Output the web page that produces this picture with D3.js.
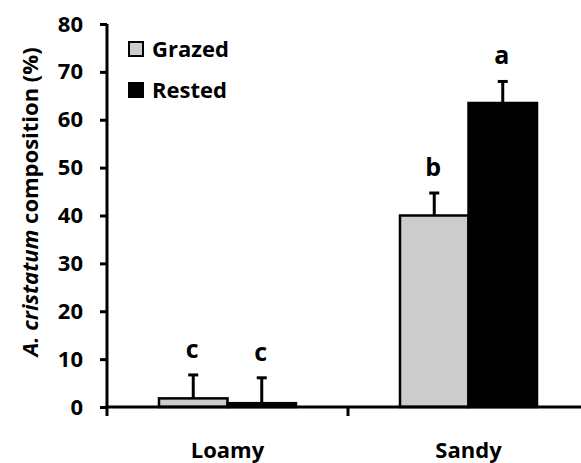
<!DOCTYPE html>
<html>
<head>
<meta charset="utf-8">
<script src="https://cdn.jsdelivr.net/npm/d3@7"></script>
<style>
  body { margin: 0; background: #fff; }
  text { font-family: "Open Sans", "DejaVu Sans", sans-serif; font-weight: bold; }
</style>
</head>
<body>
<script>
var soils = ['Loamy', 'Sandy'];
var treatments = ['Grazed', 'Rested'];
var grazed = [1.8, 40];
var rested = [0.8, 63.5];
var grazedErr = [4.9, 4.7];
var restedErr = [5.3, 4.5];
var grazedLetters = ['c', 'b'];
var restedLetters = ['c', 'a'];
var yTicks = [0, 10, 20, 30, 40, 50, 60, 70, 80];

var width = 581, height = 463;
var colors = { Grazed: '#cccccc', Rested: '#000000' };

var svg = d3.select('body').append('svg').attr('width', width).attr('height', height);

var y = d3.scaleLinear().domain([0, 80]).range([407, 24]);
var x = d3.scaleBand().domain(soils).range([107, 589]);
var xInner = d3.scaleBand().domain(treatments).range([0, 137]);

var rows = [];
soils.forEach(function (s, i) {
  rows.push({ soil: s, t: 'Grazed', v: grazed[i], e: grazedErr[i], l: grazedLetters[i] });
  rows.push({ soil: s, t: 'Rested', v: rested[i], e: restedErr[i], l: restedLetters[i] });
});

function barX(d) {
  return x(d.soil) + (x.bandwidth() - 137) / 2 + xInner(d.t);
}
function barMid(d) {
  return barX(d) + xInner.bandwidth() / 2;
}

// error bars (upper only)
svg.selectAll('line.err')
  .data(rows)
  .enter()
  .append('line')
  .attr('x1', barMid)
  .attr('x2', barMid)
  .attr('y1', function (d) { return y(d.v); })
  .attr('y2', function (d) { return y(d.v + d.e); })
  .attr('stroke', '#000').attr('stroke-width', 3);
svg.selectAll('line.cap')
  .data(rows)
  .enter()
  .append('line')
  .attr('x1', function (d) { return barMid(d) - 5; })
  .attr('x2', function (d) { return barMid(d) + 5; })
  .attr('y1', function (d) { return y(d.v + d.e); })
  .attr('y2', function (d) { return y(d.v + d.e); })
  .attr('stroke', '#000').attr('stroke-width', 3);

// bars
svg.selectAll('rect.bar')
  .data(rows)
  .enter()
  .append('rect')
  .attr('x', barX)
  .attr('width', xInner.bandwidth())
  .attr('y', function (d) { return y(d.v); })
  .attr('height', function (d) { return y(0) - y(d.v); })
  .attr('fill', function (d) { return colors[d.t]; })
  .attr('stroke', '#000').attr('stroke-width', 2.5);

// letters
svg.selectAll('text.letter')
  .data(rows)
  .enter()
  .append('text')
  .attr('x', function (d) { return barMid(d) - 1; })
  .attr('y', function (d) { return y(d.v + d.e) - 17; })
  .attr('text-anchor', 'middle')
  .attr('font-size', 25)
  .text(function (d) { return d.l; });

// y axis
var yAxis = svg.append('g')
  .attr('transform', 'translate(107,0)')
  .call(d3.axisLeft(y).tickValues(yTicks).tickSize(7).tickPadding(17));
yAxis.select('.domain').attr('stroke-width', 3).attr('d', 'M0,' + y(80) + 'V' + y(0));
yAxis.selectAll('.tick line').attr('stroke-width', 3);
yAxis.selectAll('.tick text').attr('font-size', 22).attr('font-family', '"Open Sans", sans-serif').attr('font-weight', 'bold').attr('fill', '#000');

// x axis
var xAxis = svg.append('g')
  .attr('transform', 'translate(0,' + y(0) + ')')
  .call(d3.axisBottom(x).tickSize(0).tickPadding(35));
xAxis.select('.domain').attr('stroke-width', 3).attr('d', 'M105.5,0H589');
xAxis.selectAll('.tick text').attr('font-size', 22).attr('font-family', '"Open Sans", sans-serif').attr('font-weight', 'bold').attr('fill', '#000');
// category separator ticks
svg.selectAll('line.sep')
  .data([soils[0], soils[1]])
  .enter()
  .append('line')
  .attr('x1', function (d) { return x(d); })
  .attr('x2', function (d) { return x(d); })
  .attr('y1', y(0)).attr('y2', y(0) + 9)
  .attr('stroke', '#000').attr('stroke-width', 3);

// y label
var yl = svg.append('text')
  .attr('transform', 'translate(38,202) rotate(-90)')
  .attr('text-anchor', 'middle')
  .attr('font-size', 22);
yl.append('tspan').attr('font-style', 'italic').text('A. cristatum');
yl.append('tspan').text(' composition (%)');

// legend
var legend = svg.selectAll('g.legend')
  .data(treatments)
  .enter()
  .append('g')
  .attr('transform', function (d, i) { return 'translate(129,' + (42 + i * 41) + ')'; });
legend.append('rect')
  .attr('width', 14).attr('height', 14)
  .attr('fill', function (d) { return colors[d]; })
  .attr('stroke', '#000').attr('stroke-width', 2);
legend.append('text')
  .attr('x', 23).attr('y', 15)
  .attr('font-size', 22)
  .text(function (d) { return d; });
</script>
</body>
</html>
